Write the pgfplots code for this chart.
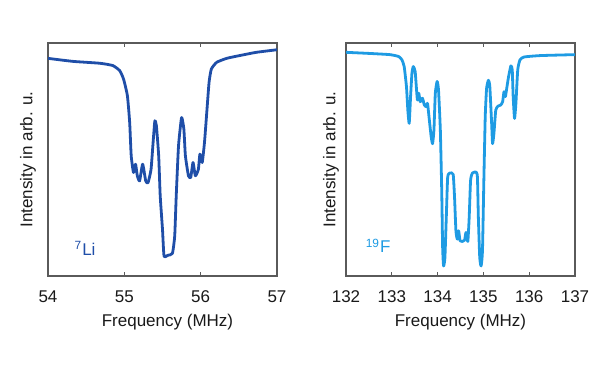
\documentclass[border=0pt]{standalone}
\usepackage{fontspec}
\setmainfont{Liberation Sans}
\usepackage{pgfplots}
\pgfplotsset{compat=1.18}
\definecolor{lidark}{HTML}{1F4EA8}
\definecolor{flight}{HTML}{1E9BE3}
\definecolor{boxgray}{HTML}{5A5A5A}
\begin{document}
\fontsize{8.5pt}{10pt}\selectfont
\begin{tikzpicture}
\path (0,0) rectangle (300pt,186.5pt);
\pgfplotsset{
  myax/.style={
    scale only axis,
    width=114.5pt, height=116.5pt,
    anchor=south west,
    ymin=0, ymax=1,
    ytick=\empty,
    axis line style={boxgray, line width=0.6pt},
    major tick length=2pt,
    tick style={boxgray, line width=0.5pt},
    xtick pos=both,
    tick align=inside,
    /pgf/number format/assume math mode=true,
    ticklabel style={font=\fontsize{8.5pt}{10pt}\selectfont, text=black!90},
    xticklabel style={yshift=-4.5pt},
    label style={font=\fontsize{8.5pt}{10pt}\selectfont, text=black!90},
    xlabel={Frequency (MHz)},
    ylabel={Intensity in arb. u.},
  }
}
\begin{axis}[myax, at={(24pt,48.5pt)}, xmin=54, xmax=57, xtick={54,55,56,57},
  xlabel style={yshift=0.5pt, xshift=2.5pt},
  ylabel style={at={([xshift=-10pt]axis description cs:0,0.5)}, anchor=center, rotate=0}]
\addplot[lidark, line width=1.4pt, line join=round, smooth, tension=0.3] coordinates {
(54.00,0.934) (54.33,0.921) (54.68,0.913) (54.85,0.903) (54.94,0.881) (54.99,0.845)
(55.04,0.774) (55.07,0.659) (55.09,0.516) (55.12,0.444) (55.147,0.480) (55.17,0.430)
(55.20,0.408) (55.24,0.480) (55.28,0.408) (55.31,0.400) (55.35,0.458) (55.38,0.587)
(55.40,0.666) (55.42,0.645) (55.45,0.516) (55.47,0.344) (55.50,0.200) (55.52,0.086)
(55.57,0.089) (55.63,0.097) (55.66,0.172) (55.68,0.344) (55.71,0.559) (55.75,0.680)
(55.78,0.630) (55.80,0.516) (55.84,0.430) (55.87,0.423) (55.90,0.487) (55.93,0.430)
(55.97,0.458) (55.99,0.523) (56.02,0.487) (56.05,0.573) (56.08,0.702) (56.11,0.831)
(56.14,0.888) (56.21,0.917) (56.34,0.934) (56.51,0.946) (56.73,0.960) (57.00,0.971)
};
\node[anchor=base west, text=lidark, font=\fontsize{8.5pt}{10pt}\selectfont] at (axis description cs:0.09,0.09) {\textsuperscript{7}Li};
\end{axis}
\begin{axis}[myax, at={(173pt,48.5pt)}, xmin=132, xmax=137, xtick={132,133,134,135,136,137},
  xlabel style={yshift=0.5pt},
  ylabel style={at={([xshift=-7.5pt]axis description cs:0,0.5)}, anchor=center, rotate=0}]
\addplot[flight, line width=1.4pt, line join=round, smooth, tension=0.3] coordinates {
(132.00,0.960) (132.53,0.955) (132.96,0.950) (133.15,0.942) (133.22,0.928) (133.27,0.899)
(133.32,0.813) (133.35,0.712) (133.38,0.655) (133.41,0.770) (133.44,0.871) (133.47,0.899)
(133.51,0.878) (133.54,0.799) (133.56,0.755) (133.59,0.784) (133.62,0.748) (133.67,0.763)
(133.71,0.734) (133.75,0.727) (133.78,0.741) (133.82,0.669) (133.86,0.597) (133.89,0.568)
(133.92,0.626) (133.95,0.784) (133.99,0.835) (134.02,0.799) (134.06,0.626) (134.09,0.367)
(134.11,0.122) (134.13,0.043) (134.16,0.079) (134.19,0.252) (134.22,0.424) (134.27,0.442)
(134.34,0.436) (134.37,0.338) (134.40,0.194) (134.43,0.158) (134.46,0.194) (134.49,0.151)
(134.54,0.148) (134.59,0.154) (134.62,0.187) (134.66,0.148) (134.69,0.252) (134.72,0.410)
(134.76,0.442) (134.84,0.446) (134.87,0.424) (134.89,0.252) (134.92,0.079) (134.95,0.043)
(134.98,0.108) (135.01,0.410) (135.04,0.683) (135.07,0.806) (135.11,0.840) (135.14,0.814)
(135.18,0.655) (135.20,0.568) (135.23,0.612) (135.27,0.712) (135.32,0.729) (135.38,0.734)
(135.42,0.748) (135.45,0.791) (135.48,0.770) (135.51,0.806) (135.55,0.856) (135.60,0.902)
(135.63,0.885) (135.65,0.770) (135.68,0.676) (135.71,0.741) (135.75,0.885) (135.80,0.928)
(135.89,0.940) (136.25,0.946) (137.00,0.950)
};
\node[anchor=base west, text=flight, font=\fontsize{8.5pt}{10pt}\selectfont] at (axis description cs:0.06,0.10) {\textsuperscript{19}F};
\end{axis}
\end{tikzpicture}
\end{document}
